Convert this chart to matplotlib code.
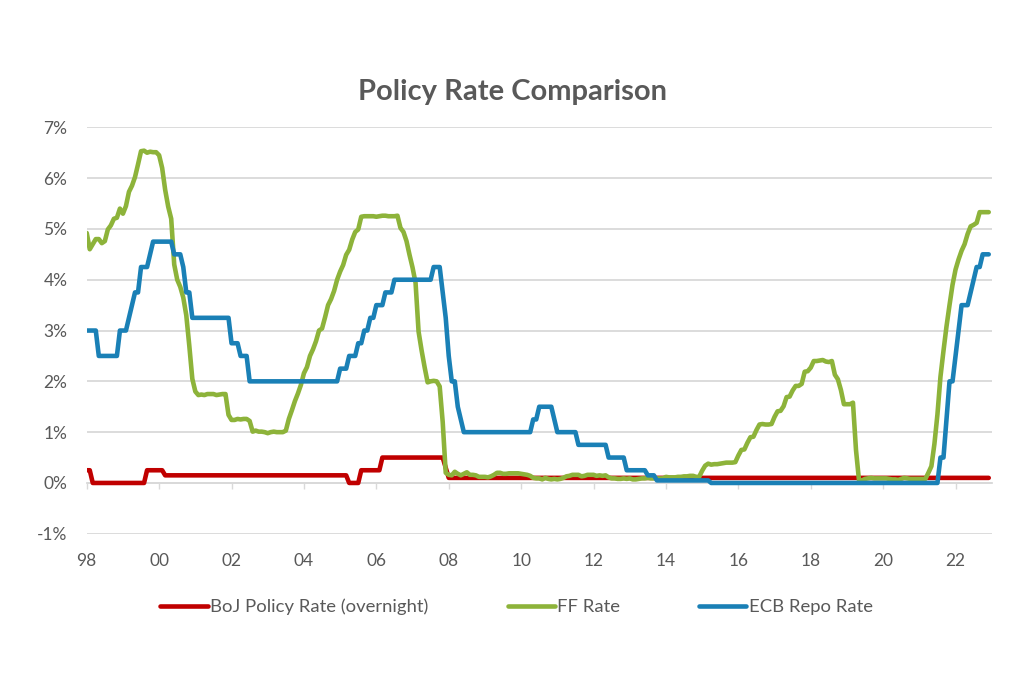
import numpy as np
import matplotlib
matplotlib.use("Agg")
import matplotlib.pyplot as plt

plt.rcParams['font.family'] = ['Lato', 'DejaVu Sans']

# Monthly values, 300 months; each row = one year starting at the tick label year
boj_rate = [
    0.25, 0.25, 0, 0, 0, 0, 0, 0, 0, 0, 0, 0,                       # 98
    0, 0, 0, 0, 0, 0, 0, 0, 0.25, 0.25, 0.25, 0.25,                 # 99
    0.25, 0.25, 0.15, 0.15, 0.15, 0.15, 0.15, 0.15, 0.15, 0.15, 0.15, 0.15,  # 00
    0.15, 0.15, 0.15, 0.15, 0.15, 0.15, 0.15, 0.15, 0.15, 0.15, 0.15, 0.15,  # 01
    0.15, 0.15, 0.15, 0.15, 0.15, 0.15, 0.15, 0.15, 0.15, 0.15, 0.15, 0.15,  # 02
    0.15, 0.15, 0.15, 0.15, 0.15, 0.15, 0.15, 0.15, 0.15, 0.15, 0.15, 0.15,  # 03
    0.15, 0.15, 0.15, 0.15, 0.15, 0.15, 0.15, 0.15, 0.15, 0.15, 0.15, 0.15,  # 04
    0.15, 0.15, 0.15, 0, 0, 0, 0, 0.25, 0.25, 0.25, 0.25, 0.25,     # 05
    0.25, 0.25, 0.5, 0.5, 0.5, 0.5, 0.5, 0.5, 0.5, 0.5, 0.5, 0.5,   # 06
    0.5, 0.5, 0.5, 0.5, 0.5, 0.5, 0.5, 0.5, 0.5, 0.5, 0.5, 0.3,     # 07
    0.1, 0.1, 0.1, 0.1, 0.1, 0.1, 0.1, 0.1, 0.1, 0.1, 0.1, 0.1,     # 08
    0.1, 0.1, 0.1, 0.1, 0.1, 0.1, 0.1, 0.1, 0.1, 0.1, 0.1, 0.1,     # 09
    0.1, 0.1, 0.1, 0.1, 0.1, 0.1, 0.1, 0.1, 0.1, 0.1, 0.1, 0.1,     # 10
    0.1, 0.1, 0.1, 0.1, 0.1, 0.1, 0.1, 0.1, 0.1, 0.1, 0.1, 0.1,     # 11
    0.1, 0.1, 0.1, 0.1, 0.1, 0.1, 0.1, 0.1, 0.1, 0.1, 0.1, 0.1,     # 12
    0.1, 0.1, 0.1, 0.1, 0.1, 0.1, 0.1, 0.1, 0.1, 0.1, 0.1, 0.1,     # 13
    0.1, 0.1, 0.1, 0.1, 0.1, 0.1, 0.1, 0.1, 0.1, 0.1, 0.1, 0.1,     # 14
    0.1, 0.1, 0.1, 0.1, 0.1, 0.1, 0.1, 0.1, 0.1, 0.1, 0.1, 0.1,     # 15
    0.1, 0.1, 0.1, 0.1, 0.1, 0.1, 0.1, 0.1, 0.1, 0.1, 0.1, 0.1,     # 16
    0.1, 0.1, 0.1, 0.1, 0.1, 0.1, 0.1, 0.1, 0.1, 0.1, 0.1, 0.1,     # 17
    0.1, 0.1, 0.1, 0.1, 0.1, 0.1, 0.1, 0.1, 0.1, 0.1, 0.1, 0.1,     # 18
    0.1, 0.1, 0.1, 0.1, 0.1, 0.1, 0.1, 0.1, 0.1, 0.1, 0.1, 0.1,     # 19
    0.1, 0.1, 0.1, 0.1, 0.1, 0.1, 0.1, 0.1, 0.1, 0.1, 0.1, 0.1,     # 20
    0.1, 0.1, 0.1, 0.1, 0.1, 0.1, 0.1, 0.1, 0.1, 0.1, 0.1, 0.1,     # 21
    0.1, 0.1, 0.1, 0.1, 0.1, 0.1, 0.1, 0.1, 0.1, 0.1, 0.1, 0.1,     # 22
]

ff_rate = [
    4.92, 4.60, 4.70, 4.80, 4.80, 4.72, 4.76, 4.99, 5.07, 5.20, 5.22, 5.40,  # 98
    5.30, 5.45, 5.73, 5.85, 6.02, 6.27, 6.53, 6.54, 6.50, 6.52, 6.51, 6.51,  # 99
    6.45, 6.20, 5.77, 5.44, 5.20, 4.30, 4.00, 3.86, 3.65, 3.30, 2.70, 2.05,  # 00
    1.80, 1.73, 1.74, 1.73, 1.75, 1.75, 1.75, 1.73, 1.74, 1.75, 1.75, 1.34,  # 01
    1.24, 1.24, 1.26, 1.25, 1.26, 1.26, 1.22, 1.01, 1.03, 1.01, 1.01, 1.00,  # 02
    0.98, 1.00, 1.01, 1.00, 1.00, 1.00, 1.03, 1.26, 1.43, 1.61, 1.76, 1.93,  # 03
    2.16, 2.28, 2.50, 2.63, 2.79, 3.00, 3.04, 3.26, 3.50, 3.62, 3.78, 4.00,  # 04
    4.16, 4.29, 4.49, 4.59, 4.79, 4.94, 4.99, 5.24, 5.25, 5.25, 5.25, 5.25,  # 05
    5.24, 5.25, 5.26, 5.26, 5.25, 5.25, 5.25, 5.26, 5.02, 4.94, 4.76, 4.49,  # 06
    4.24, 3.94, 2.98, 2.61, 2.28, 1.98, 2.00, 2.01, 2.00, 1.90, 1.20, 0.20,  # 07
    0.16, 0.15, 0.22, 0.18, 0.15, 0.18, 0.21, 0.16, 0.16, 0.15, 0.12, 0.12,  # 08
    0.12, 0.11, 0.13, 0.16, 0.20, 0.20, 0.18, 0.18, 0.19, 0.19, 0.19, 0.19,  # 09
    0.18, 0.17, 0.16, 0.14, 0.10, 0.09, 0.09, 0.07, 0.10, 0.08, 0.07, 0.08,  # 10
    0.07, 0.08, 0.10, 0.13, 0.14, 0.16, 0.16, 0.16, 0.13, 0.14, 0.16, 0.16,  # 11
    0.16, 0.14, 0.15, 0.14, 0.15, 0.11, 0.09, 0.09, 0.08, 0.08, 0.09, 0.08,  # 12
    0.09, 0.07, 0.07, 0.08, 0.09, 0.09, 0.10, 0.09, 0.09, 0.09, 0.09, 0.09,  # 13
    0.12, 0.11, 0.11, 0.11, 0.12, 0.12, 0.13, 0.13, 0.14, 0.14, 0.12, 0.12,  # 14
    0.24, 0.34, 0.38, 0.36, 0.37, 0.37, 0.38, 0.39, 0.40, 0.40, 0.40, 0.41,  # 15
    0.54, 0.65, 0.66, 0.79, 0.90, 0.91, 1.04, 1.15, 1.16, 1.15, 1.15, 1.16,  # 16
    1.30, 1.41, 1.42, 1.51, 1.69, 1.70, 1.82, 1.91, 1.91, 1.95, 2.19, 2.20,  # 17
    2.27, 2.40, 2.40, 2.41, 2.42, 2.39, 2.38, 2.40, 2.13, 2.04, 1.83, 1.55,  # 18
    1.55, 1.55, 1.58, 0.65, 0.05, 0.05, 0.08, 0.09, 0.10, 0.09, 0.09, 0.09,  # 19
    0.09, 0.09, 0.08, 0.07, 0.07, 0.06, 0.08, 0.10, 0.09, 0.08, 0.08, 0.08,  # 20
    0.08, 0.08, 0.08, 0.20, 0.33, 0.77, 1.35, 2.09, 2.60, 3.08, 3.50, 3.90,  # 21
    4.20, 4.40, 4.57, 4.70, 4.90, 5.05, 5.08, 5.12, 5.33, 5.33, 5.33, 5.33,  # 22
]

ecb_rate = [
    3.0, 3.0, 3.0, 3.0, 2.5, 2.5, 2.5, 2.5, 2.5, 2.5, 2.5, 3.0,      # 98
    3.0, 3.0, 3.25, 3.5, 3.75, 3.75, 4.25, 4.25, 4.25, 4.5, 4.75, 4.75,  # 99
    4.75, 4.75, 4.75, 4.75, 4.75, 4.5, 4.5, 4.5, 4.25, 3.75, 3.75, 3.25,  # 00
    3.25, 3.25, 3.25, 3.25, 3.25, 3.25, 3.25, 3.25, 3.25, 3.25, 3.25, 3.25,  # 01
    2.75, 2.75, 2.75, 2.5, 2.5, 2.5, 2.0, 2.0, 2.0, 2.0, 2.0, 2.0,   # 02
    2.0, 2.0, 2.0, 2.0, 2.0, 2.0, 2.0, 2.0, 2.0, 2.0, 2.0, 2.0,      # 03
    2.0, 2.0, 2.0, 2.0, 2.0, 2.0, 2.0, 2.0, 2.0, 2.0, 2.0, 2.0,      # 04
    2.25, 2.25, 2.25, 2.5, 2.5, 2.5, 2.75, 2.75, 3.0, 3.0, 3.25, 3.25,  # 05
    3.5, 3.5, 3.5, 3.75, 3.75, 3.75, 4.0, 4.0, 4.0, 4.0, 4.0, 4.0,   # 06
    4.0, 4.0, 4.0, 4.0, 4.0, 4.0, 4.0, 4.25, 4.25, 4.25, 3.75, 3.25,  # 07
    2.5, 2.0, 2.0, 1.5, 1.25, 1.0, 1.0, 1.0, 1.0, 1.0, 1.0, 1.0,     # 08
    1.0, 1.0, 1.0, 1.0, 1.0, 1.0, 1.0, 1.0, 1.0, 1.0, 1.0, 1.0,      # 09
    1.0, 1.0, 1.0, 1.0, 1.25, 1.25, 1.5, 1.5, 1.5, 1.5, 1.5, 1.25,   # 10
    1.0, 1.0, 1.0, 1.0, 1.0, 1.0, 1.0, 0.75, 0.75, 0.75, 0.75, 0.75,  # 11
    0.75, 0.75, 0.75, 0.75, 0.75, 0.5, 0.5, 0.5, 0.5, 0.5, 0.5, 0.25,  # 12
    0.25, 0.25, 0.25, 0.25, 0.25, 0.25, 0.15, 0.15, 0.15, 0.05, 0.05, 0.05,  # 13
    0.05, 0.05, 0.05, 0.05, 0.05, 0.05, 0.05, 0.05, 0.05, 0.05, 0.05, 0.05,  # 14
    0.05, 0.05, 0.05, 0, 0, 0, 0, 0, 0, 0, 0, 0,                     # 15
    0, 0, 0, 0, 0, 0, 0, 0, 0, 0, 0, 0,                              # 16
    0, 0, 0, 0, 0, 0, 0, 0, 0, 0, 0, 0,                              # 17
    0, 0, 0, 0, 0, 0, 0, 0, 0, 0, 0, 0,                              # 18
    0, 0, 0, 0, 0, 0, 0, 0, 0, 0, 0, 0,                              # 19
    0, 0, 0, 0, 0, 0, 0, 0, 0, 0, 0, 0,                              # 20
    0, 0, 0, 0, 0, 0, 0, 0.5, 0.5, 1.25, 2.0, 2.0,                  # 21
    2.5, 3.0, 3.5, 3.5, 3.5, 3.75, 4.0, 4.25, 4.25, 4.5, 4.5, 4.5,   # 22
]

start_year = 1998
tick_years = list(range(1998, 2023, 2))
tick_labels = ['98', '00', '02', '04', '06', '08', '10', '12', '14', '16', '18', '20', '22']
y_ticks = [-1, 0, 1, 2, 3, 4, 5, 6, 7]
y_labels = ['-1%', '0%', '1%', '2%', '3%', '4%', '5%', '6%', '7%']

series_names = ['BoJ Policy Rate (overnight)', 'FF Rate', 'ECB Repo Rate']
colors = ['#C00000', '#8DB33A', '#1A80B6']
text_color = '#595959'
grid_color = '#D9D9D9'

months = np.arange(len(ff_rate))
x = start_year + months / 12.0

fig = plt.figure(figsize=(10.24, 6.83), dpi=100)
ax = fig.add_axes([0.0847, 0.2185, 0.8838, 0.5951])

lines = []
for vals, name, c in zip([boj_rate, ff_rate, ecb_rate], series_names, colors):
    ln, = ax.plot(x, vals, color=c, lw=3.3, label=name, solid_joinstyle='round',
                  solid_capstyle='round', zorder=3)
    lines.append(ln)

ax.set_xlim(start_year, start_year + len(ff_rate) / 12.0)
ax.set_ylim(-1, 7)
ax.set_yticks(y_ticks)
ax.set_yticklabels(y_labels)
ax.set_xticks(tick_years)
ax.set_xticklabels(tick_labels)

ax.grid(axis='y', color=grid_color, lw=1.3, zorder=0)
ax.grid(axis='x', visible=False)
for s in ['top', 'right', 'left']:
    ax.spines[s].set_visible(False)
ax.spines['bottom'].set_position(('data', 0))
ax.spines['bottom'].set_color(grid_color)
ax.spines['bottom'].set_linewidth(1.3)
ax.spines['bottom'].set_zorder(1)

ax.tick_params(axis='y', length=0, pad=14, labelsize=12.5, labelcolor=text_color)
ax.tick_params(axis='x', direction='out', length=4.5, width=1.0, color=grid_color,
               pad=46, labelsize=12.5, labelcolor=text_color)

fig.text(0.5, 1 - 92 / 683, 'Policy Rate Comparison', ha='center', va='center',
         fontsize=21, fontweight='bold', color=text_color)

leg = fig.legend(handles=lines, loc='center', bbox_to_anchor=(516.5 / 1024, 1 - 606.7 / 683),
                 ncol=3, frameon=False, fontsize=13.3, handlelength=2.55,
                 handletextpad=0.12, columnspacing=4.3, labelcolor=text_color)

fig.savefig('out.png', dpi=100)
